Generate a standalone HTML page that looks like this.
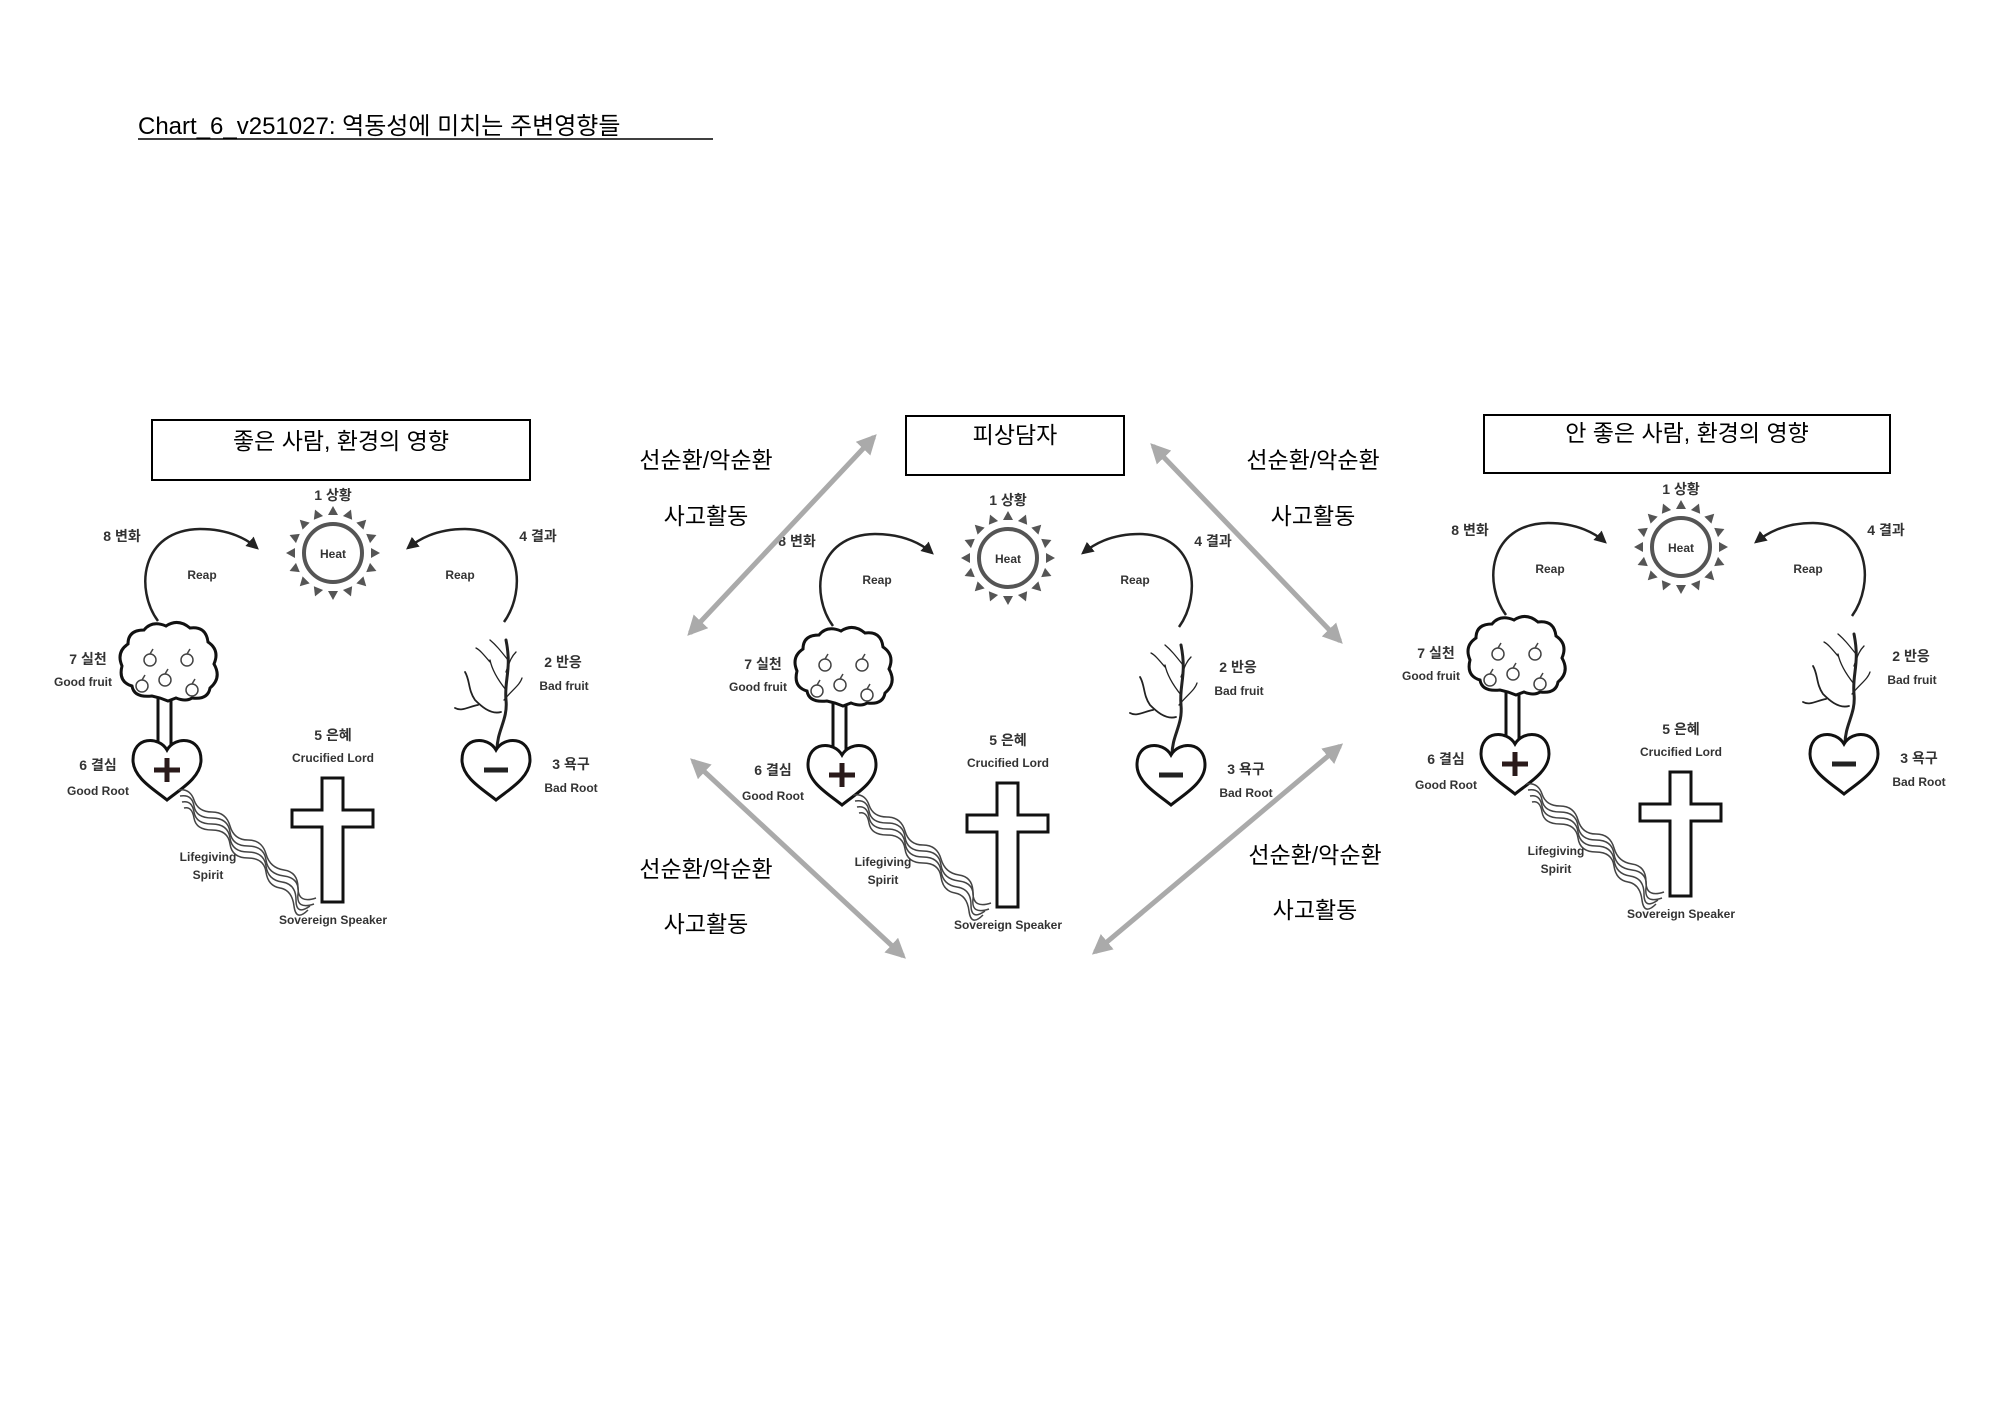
<!DOCTYPE html>
<html><head><meta charset="utf-8"><style>
body{margin:0;background:#fff}
svg{display:block}
text{font-family:"Liberation Sans","Noto Sans CJK KR",sans-serif}
.l{font-size:14px;fill:#333;font-weight:bold;text-anchor:middle}
.s{font-size:12px;fill:#333;font-weight:bold;text-anchor:middle}
.t{font-size:23px;fill:#000;text-anchor:middle}
</style></head><body>
<svg width="2000" height="1414" viewBox="0 0 2000 1414" xmlns="http://www.w3.org/2000/svg">
<defs>
<marker id="ga" viewBox="0 0 10 10" refX="8" refY="5" markerWidth="4" markerHeight="4" orient="auto-start-reverse"><path d="M0,0 L10,5 L0,10 z" fill="#aaa"/></marker>
<marker id="ba" viewBox="0 0 10 10" refX="8" refY="5" markerWidth="5" markerHeight="5" orient="auto"><path d="M0,0 L10,5 L0,10 z" fill="#222"/></marker>
</defs>
<text x="138" y="134" style="font-size:24px" fill="#000">Chart_6_v251027: 역동성에 미치는 주변영향들</text>
<line x1="138" y1="139" x2="713" y2="139" stroke="#000" stroke-width="1.5"/>

<!-- boxes -->
<rect x="152" y="420" width="378" height="60" fill="none" stroke="#000" stroke-width="2"/>
<text x="341" y="449" class="t">좋은 사람, 환경의 영향</text>
<rect x="906" y="416" width="218" height="59" fill="none" stroke="#000" stroke-width="2"/>
<text x="1015" y="443" class="t">피상담자</text>
<rect x="1484" y="415" width="406" height="58" fill="none" stroke="#000" stroke-width="2"/>
<text x="1687" y="441" class="t">안 좋은 사람, 환경의 영향</text>

<g id="dg">
<text x="333" y="500" class="l">1 상황</text>
<circle cx="333" cy="553" r="29" fill="none" stroke="#555" stroke-width="4"/>
<text x="333" y="558" class="s">Heat</text>
<g fill="#555" transform="translate(333,553)">
<polygon points="0,-47 -5,-38 5,-38"/><polygon points="0,-47 -5,-38 5,-38" transform="rotate(22.5)"/><polygon points="0,-47 -5,-38 5,-38" transform="rotate(45)"/><polygon points="0,-47 -5,-38 5,-38" transform="rotate(67.5)"/><polygon points="0,-47 -5,-38 5,-38" transform="rotate(90)"/><polygon points="0,-47 -5,-38 5,-38" transform="rotate(112.5)"/><polygon points="0,-47 -5,-38 5,-38" transform="rotate(135)"/><polygon points="0,-47 -5,-38 5,-38" transform="rotate(157.5)"/><polygon points="0,-47 -5,-38 5,-38" transform="rotate(180)"/><polygon points="0,-47 -5,-38 5,-38" transform="rotate(202.5)"/><polygon points="0,-47 -5,-38 5,-38" transform="rotate(225)"/><polygon points="0,-47 -5,-38 5,-38" transform="rotate(247.5)"/><polygon points="0,-47 -5,-38 5,-38" transform="rotate(270)"/><polygon points="0,-47 -5,-38 5,-38" transform="rotate(292.5)"/><polygon points="0,-47 -5,-38 5,-38" transform="rotate(315)"/><polygon points="0,-47 -5,-38 5,-38" transform="rotate(337.5)"/>
</g>
<text x="122" y="541" class="l">8 변화</text>
<text x="538" y="541" class="l">4 결과</text>
<path d="M158,621 C135,590 140,530 200,529 C230,529 248,540 257,548" fill="none" stroke="#222" stroke-width="2.5" marker-end="url(#ba)"/>
<path d="M504,622 C527,590 522,530 465,529 C435,529 418,540 408,548" fill="none" stroke="#222" stroke-width="2.5" marker-end="url(#ba)"/>
<text x="202" y="579" class="s">Reap</text>
<text x="460" y="579" class="s">Reap</text>
<!-- good tree -->
<path d="M158,695 L158,748 M171,695 L171,748" stroke="#111" stroke-width="3"/>
<path d="M152,696 q-18,2 -20,-10 q-14,-4 -10,-20 q-6,-14 6,-22 q0,-14 16,-14 q8,-10 22,-4 q12,-8 24,2 q16,-2 18,14 q12,8 6,22 q8,14 -4,24 q-2,12 -18,10 q-6,4 -16,0 l-8,3 l-8,-3 z" fill="#fff" stroke="#111" stroke-width="3"/>
<g fill="none" stroke="#444" stroke-width="1.5">
<circle cx="150" cy="660" r="6"/><circle cx="187" cy="660" r="6"/><circle cx="165" cy="680" r="6"/><circle cx="142" cy="686" r="6"/><circle cx="192" cy="690" r="6"/>
<path d="M150,654 l3,-5 M187,654 l3,-5 M165,674 l3,-5 M142,680 l3,-5 M192,684 l3,-5"/>
</g>
<g transform="translate(167,770)"><path d="M0,-20 C-8,-34 -34,-34 -34,-10 C-34,8 -12,20 0,30 C12,20 34,8 34,-10 C34,-34 8,-34 0,-20 Z" fill="#fff" stroke="#111" stroke-width="3"/><path d="M0,-12 V12 M-13,0 H13" stroke="#2a1a1a" stroke-width="5"/></g>
<text x="88" y="664" class="l">7 실천</text>
<text x="83" y="686" class="s">Good fruit</text>
<text x="98" y="770" class="l">6 결심</text>
<text x="98" y="795" class="s">Good Root</text>
<!-- wavy -->
<g fill="none" stroke="#444" stroke-width="1.5">
<path d="M178,790 q12,-2 16,10 t18,12 t18,14 t18,14 t18,14 t18,16 t14,18 t18,10"/>
<path d="M180,796 q12,-2 14,10 t18,12 t18,14 t18,14 t18,14 t18,16 t14,18 t16,10"/>
<path d="M182,802 q10,-2 12,10 t18,12 t18,14 t18,14 t18,14 t16,16 t14,18 t14,6"/>
<path d="M184,808 q8,-2 10,10 t18,12 t18,14 t18,14 t18,14 t14,16 t14,18 t14,4"/>
</g>
<text x="208" y="861" class="s">Lifegiving</text>
<text x="208" y="879" class="s">Spirit</text>
<!-- cross -->
<path d="M322,778 H343 V810 H373 V827 H343 V902 H322 V827 H292 V810 H322 Z" fill="#fff" stroke="#111" stroke-width="3"/>
<text x="333" y="740" class="l">5 은혜</text>
<text x="333" y="762" class="s">Crucified Lord</text>
<text x="333" y="924" class="s">Sovereign Speaker</text>
<!-- dead tree -->
<g fill="none" stroke="#222" stroke-linecap="round">
<path d="M497,750 C497,730 508,720 506,700 C504,680 512,670 506,640" stroke-width="3"/>
<path d="M501,712 C490,715 480,705 475,700 C468,690 470,680 465,672 M478,705 C470,706 462,712 455,708" stroke-width="1.8"/>
<path d="M506,690 C498,680 492,670 490,660 M490,662 C484,655 480,650 476,648 M506,672 C510,660 512,656 516,652 M508,660 C500,650 496,645 490,640" stroke-width="1.3"/>
<path d="M504,700 C512,690 520,685 522,678" stroke-width="1.3"/>
</g>
<g transform="translate(496,770)"><path d="M0,-20 C-8,-34 -34,-34 -34,-10 C-34,8 -12,20 0,30 C12,20 34,8 34,-10 C34,-34 8,-34 0,-20 Z" fill="#fff" stroke="#111" stroke-width="3"/><path d="M-12,0 H12" stroke="#222" stroke-width="5"/></g>
<text x="563" y="667" class="l">2 반응</text>
<text x="564" y="690" class="s">Bad fruit</text>
<text x="571" y="769" class="l">3 욕구</text>
<text x="571" y="792" class="s">Bad Root</text>
</g>

<g transform="translate(675,5)">
<text x="333" y="500" class="l">1 상황</text>
<circle cx="333" cy="553" r="29" fill="none" stroke="#555" stroke-width="4"/>
<text x="333" y="558" class="s">Heat</text>
<g fill="#555" transform="translate(333,553)">
<polygon points="0,-47 -5,-38 5,-38"/><polygon points="0,-47 -5,-38 5,-38" transform="rotate(22.5)"/><polygon points="0,-47 -5,-38 5,-38" transform="rotate(45)"/><polygon points="0,-47 -5,-38 5,-38" transform="rotate(67.5)"/><polygon points="0,-47 -5,-38 5,-38" transform="rotate(90)"/><polygon points="0,-47 -5,-38 5,-38" transform="rotate(112.5)"/><polygon points="0,-47 -5,-38 5,-38" transform="rotate(135)"/><polygon points="0,-47 -5,-38 5,-38" transform="rotate(157.5)"/><polygon points="0,-47 -5,-38 5,-38" transform="rotate(180)"/><polygon points="0,-47 -5,-38 5,-38" transform="rotate(202.5)"/><polygon points="0,-47 -5,-38 5,-38" transform="rotate(225)"/><polygon points="0,-47 -5,-38 5,-38" transform="rotate(247.5)"/><polygon points="0,-47 -5,-38 5,-38" transform="rotate(270)"/><polygon points="0,-47 -5,-38 5,-38" transform="rotate(292.5)"/><polygon points="0,-47 -5,-38 5,-38" transform="rotate(315)"/><polygon points="0,-47 -5,-38 5,-38" transform="rotate(337.5)"/>
</g>
<text x="122" y="541" class="l">8 변화</text>
<text x="538" y="541" class="l">4 결과</text>
<path d="M158,621 C135,590 140,530 200,529 C230,529 248,540 257,548" fill="none" stroke="#222" stroke-width="2.5" marker-end="url(#ba)"/>
<path d="M504,622 C527,590 522,530 465,529 C435,529 418,540 408,548" fill="none" stroke="#222" stroke-width="2.5" marker-end="url(#ba)"/>
<text x="202" y="579" class="s">Reap</text>
<text x="460" y="579" class="s">Reap</text>
<path d="M158,695 L158,748 M171,695 L171,748" stroke="#111" stroke-width="3"/>
<path d="M152,696 q-18,2 -20,-10 q-14,-4 -10,-20 q-6,-14 6,-22 q0,-14 16,-14 q8,-10 22,-4 q12,-8 24,2 q16,-2 18,14 q12,8 6,22 q8,14 -4,24 q-2,12 -18,10 q-6,4 -16,0 l-8,3 l-8,-3 z" fill="#fff" stroke="#111" stroke-width="3"/>
<g fill="none" stroke="#444" stroke-width="1.5">
<circle cx="150" cy="660" r="6"/><circle cx="187" cy="660" r="6"/><circle cx="165" cy="680" r="6"/><circle cx="142" cy="686" r="6"/><circle cx="192" cy="690" r="6"/>
<path d="M150,654 l3,-5 M187,654 l3,-5 M165,674 l3,-5 M142,680 l3,-5 M192,684 l3,-5"/>
</g>
<g transform="translate(167,770)"><path d="M0,-20 C-8,-34 -34,-34 -34,-10 C-34,8 -12,20 0,30 C12,20 34,8 34,-10 C34,-34 8,-34 0,-20 Z" fill="#fff" stroke="#111" stroke-width="3"/><path d="M0,-12 V12 M-13,0 H13" stroke="#2a1a1a" stroke-width="5"/></g>
<text x="88" y="664" class="l">7 실천</text>
<text x="83" y="686" class="s">Good fruit</text>
<text x="98" y="770" class="l">6 결심</text>
<text x="98" y="795" class="s">Good Root</text>
<g fill="none" stroke="#444" stroke-width="1.5">
<path d="M178,790 q12,-2 16,10 t18,12 t18,14 t18,14 t18,14 t18,16 t14,18 t18,10"/>
<path d="M180,796 q12,-2 14,10 t18,12 t18,14 t18,14 t18,14 t18,16 t14,18 t16,10"/>
<path d="M182,802 q10,-2 12,10 t18,12 t18,14 t18,14 t18,14 t16,16 t14,18 t14,6"/>
<path d="M184,808 q8,-2 10,10 t18,12 t18,14 t18,14 t18,14 t14,16 t14,18 t14,4"/>
</g>
<text x="208" y="861" class="s">Lifegiving</text>
<text x="208" y="879" class="s">Spirit</text>
<path d="M322,778 H343 V810 H373 V827 H343 V902 H322 V827 H292 V810 H322 Z" fill="#fff" stroke="#111" stroke-width="3"/>
<text x="333" y="740" class="l">5 은혜</text>
<text x="333" y="762" class="s">Crucified Lord</text>
<text x="333" y="924" class="s">Sovereign Speaker</text>
<g fill="none" stroke="#222" stroke-linecap="round">
<path d="M497,750 C497,730 508,720 506,700 C504,680 512,670 506,640" stroke-width="3"/>
<path d="M501,712 C490,715 480,705 475,700 C468,690 470,680 465,672 M478,705 C470,706 462,712 455,708" stroke-width="1.8"/>
<path d="M506,690 C498,680 492,670 490,660 M490,662 C484,655 480,650 476,648 M506,672 C510,660 512,656 516,652 M508,660 C500,650 496,645 490,640" stroke-width="1.3"/>
<path d="M504,700 C512,690 520,685 522,678" stroke-width="1.3"/>
</g>
<g transform="translate(496,770)"><path d="M0,-20 C-8,-34 -34,-34 -34,-10 C-34,8 -12,20 0,30 C12,20 34,8 34,-10 C34,-34 8,-34 0,-20 Z" fill="#fff" stroke="#111" stroke-width="3"/><path d="M-12,0 H12" stroke="#222" stroke-width="5"/></g>
<text x="563" y="667" class="l">2 반응</text>
<text x="564" y="690" class="s">Bad fruit</text>
<text x="571" y="769" class="l">3 욕구</text>
<text x="571" y="792" class="s">Bad Root</text>
</g>

<g transform="translate(1348,-6)">
<text x="333" y="500" class="l">1 상황</text>
<circle cx="333" cy="553" r="29" fill="none" stroke="#555" stroke-width="4"/>
<text x="333" y="558" class="s">Heat</text>
<g fill="#555" transform="translate(333,553)">
<polygon points="0,-47 -5,-38 5,-38"/><polygon points="0,-47 -5,-38 5,-38" transform="rotate(22.5)"/><polygon points="0,-47 -5,-38 5,-38" transform="rotate(45)"/><polygon points="0,-47 -5,-38 5,-38" transform="rotate(67.5)"/><polygon points="0,-47 -5,-38 5,-38" transform="rotate(90)"/><polygon points="0,-47 -5,-38 5,-38" transform="rotate(112.5)"/><polygon points="0,-47 -5,-38 5,-38" transform="rotate(135)"/><polygon points="0,-47 -5,-38 5,-38" transform="rotate(157.5)"/><polygon points="0,-47 -5,-38 5,-38" transform="rotate(180)"/><polygon points="0,-47 -5,-38 5,-38" transform="rotate(202.5)"/><polygon points="0,-47 -5,-38 5,-38" transform="rotate(225)"/><polygon points="0,-47 -5,-38 5,-38" transform="rotate(247.5)"/><polygon points="0,-47 -5,-38 5,-38" transform="rotate(270)"/><polygon points="0,-47 -5,-38 5,-38" transform="rotate(292.5)"/><polygon points="0,-47 -5,-38 5,-38" transform="rotate(315)"/><polygon points="0,-47 -5,-38 5,-38" transform="rotate(337.5)"/>
</g>
<text x="122" y="541" class="l">8 변화</text>
<text x="538" y="541" class="l">4 결과</text>
<path d="M158,621 C135,590 140,530 200,529 C230,529 248,540 257,548" fill="none" stroke="#222" stroke-width="2.5" marker-end="url(#ba)"/>
<path d="M504,622 C527,590 522,530 465,529 C435,529 418,540 408,548" fill="none" stroke="#222" stroke-width="2.5" marker-end="url(#ba)"/>
<text x="202" y="579" class="s">Reap</text>
<text x="460" y="579" class="s">Reap</text>
<path d="M158,695 L158,748 M171,695 L171,748" stroke="#111" stroke-width="3"/>
<path d="M152,696 q-18,2 -20,-10 q-14,-4 -10,-20 q-6,-14 6,-22 q0,-14 16,-14 q8,-10 22,-4 q12,-8 24,2 q16,-2 18,14 q12,8 6,22 q8,14 -4,24 q-2,12 -18,10 q-6,4 -16,0 l-8,3 l-8,-3 z" fill="#fff" stroke="#111" stroke-width="3"/>
<g fill="none" stroke="#444" stroke-width="1.5">
<circle cx="150" cy="660" r="6"/><circle cx="187" cy="660" r="6"/><circle cx="165" cy="680" r="6"/><circle cx="142" cy="686" r="6"/><circle cx="192" cy="690" r="6"/>
<path d="M150,654 l3,-5 M187,654 l3,-5 M165,674 l3,-5 M142,680 l3,-5 M192,684 l3,-5"/>
</g>
<g transform="translate(167,770)"><path d="M0,-20 C-8,-34 -34,-34 -34,-10 C-34,8 -12,20 0,30 C12,20 34,8 34,-10 C34,-34 8,-34 0,-20 Z" fill="#fff" stroke="#111" stroke-width="3"/><path d="M0,-12 V12 M-13,0 H13" stroke="#2a1a1a" stroke-width="5"/></g>
<text x="88" y="664" class="l">7 실천</text>
<text x="83" y="686" class="s">Good fruit</text>
<text x="98" y="770" class="l">6 결심</text>
<text x="98" y="795" class="s">Good Root</text>
<g fill="none" stroke="#444" stroke-width="1.5">
<path d="M178,790 q12,-2 16,10 t18,12 t18,14 t18,14 t18,14 t18,16 t14,18 t18,10"/>
<path d="M180,796 q12,-2 14,10 t18,12 t18,14 t18,14 t18,14 t18,16 t14,18 t16,10"/>
<path d="M182,802 q10,-2 12,10 t18,12 t18,14 t18,14 t18,14 t16,16 t14,18 t14,6"/>
<path d="M184,808 q8,-2 10,10 t18,12 t18,14 t18,14 t18,14 t14,16 t14,18 t14,4"/>
</g>
<text x="208" y="861" class="s">Lifegiving</text>
<text x="208" y="879" class="s">Spirit</text>
<path d="M322,778 H343 V810 H373 V827 H343 V902 H322 V827 H292 V810 H322 Z" fill="#fff" stroke="#111" stroke-width="3"/>
<text x="333" y="740" class="l">5 은혜</text>
<text x="333" y="762" class="s">Crucified Lord</text>
<text x="333" y="924" class="s">Sovereign Speaker</text>
<g fill="none" stroke="#222" stroke-linecap="round">
<path d="M497,750 C497,730 508,720 506,700 C504,680 512,670 506,640" stroke-width="3"/>
<path d="M501,712 C490,715 480,705 475,700 C468,690 470,680 465,672 M478,705 C470,706 462,712 455,708" stroke-width="1.8"/>
<path d="M506,690 C498,680 492,670 490,660 M490,662 C484,655 480,650 476,648 M506,672 C510,660 512,656 516,652 M508,660 C500,650 496,645 490,640" stroke-width="1.3"/>
<path d="M504,700 C512,690 520,685 522,678" stroke-width="1.3"/>
</g>
<g transform="translate(496,770)"><path d="M0,-20 C-8,-34 -34,-34 -34,-10 C-34,8 -12,20 0,30 C12,20 34,8 34,-10 C34,-34 8,-34 0,-20 Z" fill="#fff" stroke="#111" stroke-width="3"/><path d="M-12,0 H12" stroke="#222" stroke-width="5"/></g>
<text x="563" y="667" class="l">2 반응</text>
<text x="564" y="690" class="s">Bad fruit</text>
<text x="571" y="769" class="l">3 욕구</text>
<text x="571" y="792" class="s">Bad Root</text>
</g>

<!-- gray double arrows -->
<g stroke="#aaa" stroke-width="5" marker-start="url(#ga)" marker-end="url(#ga)">
<line x1="874" y1="437" x2="690" y2="633"/>
<line x1="1153" y1="446" x2="1340" y2="641"/>
<line x1="693" y1="761" x2="903" y2="956"/>
<line x1="1340" y1="746" x2="1095" y2="952"/>
</g>
<g class="t" style="font-size:23px">
<text x="706" y="468" class="t">선순환/악순환</text>
<text x="706" y="524" class="t">사고활동</text>
<text x="1313" y="468" class="t">선순환/악순환</text>
<text x="1313" y="524" class="t">사고활동</text>
<text x="706" y="877" class="t">선순환/악순환</text>
<text x="706" y="932" class="t">사고활동</text>
<text x="1315" y="863" class="t">선순환/악순환</text>
<text x="1315" y="918" class="t">사고활동</text>
</g>
</svg>
</body></html>
